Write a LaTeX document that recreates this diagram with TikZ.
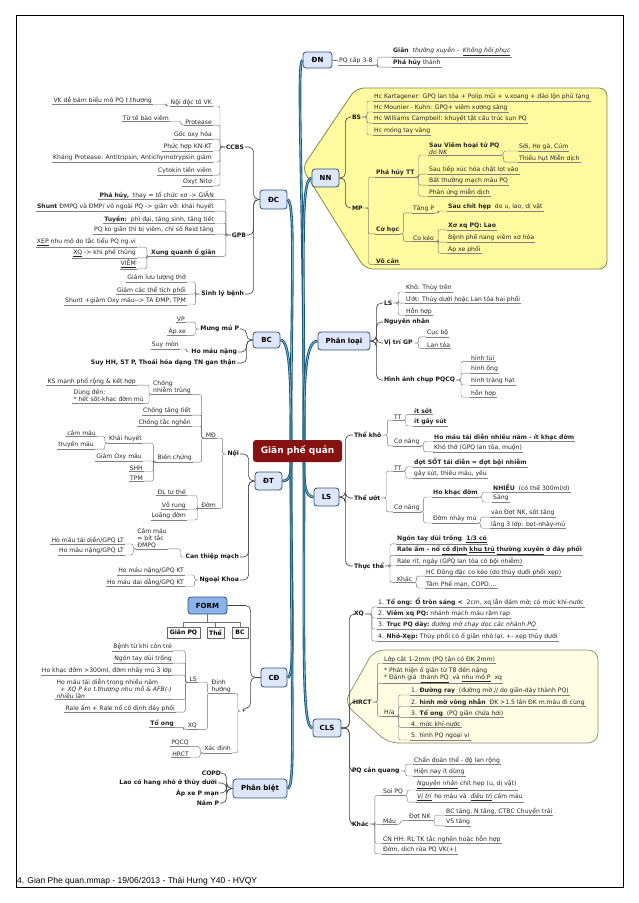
\documentclass[tikz,border=0pt]{standalone}
\usepackage{fontspec}
\setmainfont{DejaVu Sans}
\newfontfamily\arialf{Liberation Sans}
\definecolor{mainc}{RGB}{24,84,118}
\definecolor{mainl}{RGB}{120,180,215}
\definecolor{boxf}{RGB}{222,230,250}
\definecolor{boxb}{RGB}{45,85,115}
\definecolor{cenf}{RGB}{135,18,18}
\definecolor{yelf}{RGB}{255,250,160}
\definecolor{yelb}{RGB}{125,140,70}
\definecolor{crmf}{RGB}{255,252,228}
\definecolor{crmb}{RGB}{140,140,105}
\definecolor{formf}{RGB}{140,178,235}
\newcommand\fs{\fontsize{6.1}{7}\selectfont}
\newcommand\fb{\fontsize{7}{8}\selectfont\bfseries}
\newcommand\rb[5][cl]{\foreach \ch in {#5}{\draw[#1] (#2) -- ++(#3,0) |- (\ch.#4);}}
\newcommand\lb[5][cl]{\foreach \ch in {#5}{\draw[#1] (#2) -- ++(-#3,0) |- (\ch.#4);}}
\begin{document}
\begin{tikzpicture}[x=1pt,y=-1pt,
  ul/.style={draw=black!50, line width=0.4pt},
  t/.style={inner xsep=1pt, inner ysep=0.7pt, font=\fs, text=black!85, align=left,
     append after command={(\tikzlastnode.south west) edge[ul] (\tikzlastnode.south east)}},
  tr/.style={t, anchor=west},
  tl/.style={t, anchor=east},
  nb/.style={inner sep=0.8pt, font=\fs\bfseries, text=black!90},
  nbr/.style={nb, anchor=west},
  nbl/.style={nb, anchor=east},
  cl/.style={draw=black!55, line width=0.4pt, rounded corners=2pt},
  c1/.style={draw=black!75, line width=0.6pt, rounded corners=5pt},
  box/.style={draw=boxb, fill=boxf, line width=0.8pt, rounded corners=3pt, font=\fb, inner sep=0pt},
  sb/.style={draw=black!60, fill=white, font=\fs\bfseries, minimum height=11pt, inner sep=1pt},
  main/.style={draw=mainc, line width=0.9pt, double=mainl, double distance=0.8pt}]
\useasboundingbox (0,0) rectangle (638,903);
\fill[white] (0,0) rectangle (638,903);
\draw[line width=0.9pt] (16,15) rectangle (623,887);
% regions
\draw[fill=yelf, draw=yelb, line width=0.8pt, rounded corners=8pt] (356,88) -- (607,88) -- (607,269) -- (365,269) -- (302,168) -- cycle;
\draw[fill=crmf, draw=crmb, line width=0.7pt, rounded corners=10pt] (374,650) -- (598,650) -- (598,743) -- (388,743) -- (344,703) -- cycle;
% central + main boxes
\node[fill=cenf, rounded corners=3pt, text=white, font=\fontsize{9}{10}\selectfont\bfseries, minimum width=89pt, minimum height=22pt, inner sep=0pt] (CN) at (297.5,451) {Giãn phế quản};
\node[box, minimum width=29pt, minimum height=16pt] (DN) at (317.5,60) {ĐN};
\node[box, minimum width=27pt, minimum height=18pt] (NN) at (325.5,178) {NN};
\node[box, minimum width=52pt, minimum height=18pt] (PL) at (344,341) {Phân loại};
\node[box, minimum width=25pt, minimum height=18pt] (LSb) at (326.5,497) {LS};
\node[box, minimum width=28pt, minimum height=18pt] (CLSb) at (327,728) {CLS};
\node[box, minimum width=27pt, minimum height=19pt] (DC) at (273.5,199.5) {ĐC};
\node[box, minimum width=27pt, minimum height=16pt] (BCb) at (266.5,340) {BC};
\node[box, minimum width=27pt, minimum height=18pt] (DT) at (268.5,481) {ĐT};
\node[box, minimum width=26pt, minimum height=19pt] (CD) at (274,677.5) {CĐ};
\node[box, minimum width=54pt, minimum height=19pt] (PB) at (260,788.5) {Phân biệt};
\coordinate (cUR) at (304,440);
\coordinate (cUL) at (291,440);
\coordinate (cDR) at (304,462);
\coordinate (cDL) at (291,462);
\draw[main] (cUR) .. controls (304,200) and (296,60) .. (DN.west);
\draw[main] (cUR) .. controls (304,260) and (300,178) .. (NN.west);
\draw[main] (cUR) .. controls (304,380) and (305,341) .. (PL.west);
\draw[main] (cDR) .. controls (304,485) and (305,497) .. (LSb.west);
\draw[main] (cDR) .. controls (304,660) and (302,728) .. (CLSb.west);
\draw[main] (cUL) .. controls (291,300) and (296,200) .. (DC.east);
\draw[main] (cUL) .. controls (291,380) and (290,340) .. (BCb.east);
\draw[main] (cDL) .. controls (291,474) and (290,481) .. (DT.east);
\draw[main] (cDL) .. controls (291,610) and (296,678) .. (CD.east);
\draw[main] (cDL) .. controls (291,720) and (296,788) .. (PB.east);
% ===== DN
\node[tr] (dn1) at (338,61) {PQ cấp 3-8};
\node[tr] (dn2) at (392,52) {\textbf{Giãn}\ \ \textit{thường xuyên} - \ \textit{\underline{Không hồi phục}}};
\node[tr] (dn3) at (392,63) {\textbf{Phá hủy} thành};
\draw[c1] (DN.east) -- (dn1.west);
\rb{dn1.south east}{4}{south west}{dn2,dn3}
% ===== NN
\node[nbr] (bs) at (351,117) {BS};
\node[tr] (bs1) at (373,97) {Hc Kartagener: GPQ lan tỏa + Polip mũi + v.xoang + đảo lộn phủ tạng};
\node[tr] (bs2) at (373,108) {Hc Mounier - Kuhn: GPQ+ viêm xương sàng};
\node[tr] (bs3) at (373,119) {Hc Williams Campbell: khuyết tật cấu trúc sụn PQ};
\node[tr] (bs4) at (373,131) {Hc móng tay vàng};
\node[nbr] (mp) at (351,208) {MP};
\node[tr,font=\fs\bfseries] (ph) at (375,173) {Phá hủy TT};
\node[tr] (ph1) at (428,148) {\textbf{Sau Viêm hoại tử PQ}\\\textit{do NK}};
\node[tr] (ph11) at (518,147) {Sởi, Ho gà, Cúm};
\node[tr] (ph12) at (518,158) {Thiếu hụt Miễn dịch};
\node[tr] (ph2) at (428,170) {Sau tiếp xúc hóa chất lọt vào};
\node[tr] (ph3) at (428,181) {Bất thường mạch máu PQ};
\node[tr] (ph4) at (428,192) {Phản ứng miễn dịch};
\node[tr,font=\fs\bfseries] (ch) at (375,230) {Cơ học};
\node[tr] (ch1) at (412,209) {Tăng P};
\node[tr] (ch11) at (447,207) {\textbf{Sau chít hẹp}\ \ do u, lao, dị vật};
\node[tr] (ch2) at (412,238) {Co kéo};
\node[tr] (ch21) at (447,226) {\textbf{Xơ xq PQ: Lao}};
\node[tr] (ch22) at (447,238) {Bệnh phế nang viêm xơ hóa};
\node[tr] (ch23) at (447,249) {Áp xe phổi};
\node[tr,font=\fs\bfseries] (vc) at (375,261) {Vô căn};
\rb[c1]{NN.east}{6}{west}{bs,mp}
\rb{bs.east}{5}{south west}{bs1,bs2,bs3,bs4}
\rb{mp.east}{5}{south west}{ph,ch,vc}
\rb{ph.south east}{3}{south west}{ph1,ph2,ph3,ph4}
\rb{ph1.south east}{3}{south west}{ph11,ph12}
\rb{ch.south east}{3}{south west}{ch1,ch2}
\rb{ch1.south east}{3}{south west}{ch11}
\rb{ch2.south east}{3}{south west}{ch21,ch22,ch23}
% ===== Phan loai
\node[nbr] (pl1) at (383,303) {LS};
\node[tr] (pl11) at (405,288) {Khô: Thùy trên};
\node[tr] (pl12) at (405,299) {Ướt: Thùy dưới hoặc Lan tỏa hai phổi};
\node[tr] (pl13) at (405,311) {Hỗn hợp};
\node[nbr] (pl2) at (383,322) {Nguyên nhân};
\node[nbr] (pl3) at (383,343) {Vị trí GP};
\node[tr] (pl31) at (426,333) {Cục bộ};
\node[tr] (pl32) at (426,345) {Lan tỏa};
\node[nbr] (pl4) at (383,380) {Hình ảnh chụp PQCQ};
\node[tr] (pl41) at (470,358) {hình túi};
\node[tr] (pl42) at (470,369) {hình ống};
\node[tr] (pl43) at (470,381) {hình tràng hạt};
\node[tr] (pl44) at (470,393) {hỗn hợp};
\rb[c1]{PL.east}{6}{west}{pl1,pl2,pl3,pl4}
\rb{pl1.east}{5}{south west}{pl11,pl12,pl13}
\rb{pl3.east}{5}{south west}{pl31,pl32}
\rb{pl4.east}{5}{south west}{pl41,pl42,pl43,pl44}
% ===== LS
\node[nbr] (tk) at (353,435) {Thể khô};
\node[tr] (tk1) at (393,417) {TT};
\node[tr] (tk11) at (413,411) {\textbf{ít sốt}};
\node[tr] (tk12) at (413,422) {\textbf{ít gây sút}};
\node[tr] (tk2) at (393,442) {Cơ năng};
\node[tr] (tk21) at (433,437) {\textbf{Ho máu tái diễn nhiều năm - ít khạc đờm}};
\node[tr] (tk22) at (433,448) {Khó thở (GPQ lan tỏa, muộn)};
\node[nbr] (tu) at (353,498) {Thể ướt};
\node[tr] (tu1) at (393,468) {TT};
\node[tr] (tu11) at (413,462) {\textbf{đợt SỐT tái diễn = đợt bội nhiễm}};
\node[tr] (tu12) at (413,474) {gây sút, thiếu máu, yếu};
\node[tr] (tu2) at (393,508) {Cơ năng};
\node[tr] (tu21) at (432,493) {\textbf{Ho khạc đờm}};
\node[tr] (tu211) at (492,488) {\textbf{NHIỀU}\ \ (có thể 300ml/d)};
\node[tr] (tu212) at (492,498) {Sáng};
\node[tr] (tu22) at (432,519) {Đờm nhày mủ};
\node[tr] (tu221) at (490,513) {vào Đợt NK, sốt tăng};
\node[tr] (tu222) at (490,524) {lắng 3 lớp: bọt-nhày-mủ};
\node[nbr] (tt) at (353,566) {Thực thể};
\node[tr] (tt1) at (396,539) {\textbf{Ngón tay dùi trống\ \ \underline{1/3 có}}};
\node[tr] (tt2) at (396,550) {\textbf{Rale ẩm - nổ \underline{cố định} \underline{khu trú} \underline{thường xuyên} ở đáy phổi}};
\node[tr] (tt3) at (396,561) {Rale rít, ngáy (GPQ lan tỏa có bội nhiễm)};
\node[tr] (tt4) at (396,579) {Khác};
\node[tr] (tt41) at (425,572) {HC Đông đặc co kéo (do thùy dưới phổi xẹp)};
\node[tr] (tt42) at (425,584) {Tâm Phế mạn, COPD,...};
\rb[c1]{LSb.east}{6}{west}{tk,tu,tt}
\rb{tk.east}{5}{south west}{tk1,tk2}
\rb{tk1.south east}{3}{south west}{tk11,tk12}
\rb{tk2.south east}{3}{south west}{tk21,tk22}
\rb{tu.east}{5}{south west}{tu1,tu2}
\rb{tu1.south east}{3}{south west}{tu11,tu12}
\rb{tu2.south east}{3}{south west}{tu21,tu22}
\rb{tu21.south east}{3}{south west}{tu211,tu212}
\rb{tu22.south east}{3}{south west}{tu221,tu222}
\rb{tt.east}{5}{south west}{tt1,tt2,tt3,tt4}
\rb{tt4.south east}{3}{south west}{tt41,tt42}
% ===== CLS
\node[nbr] (xq) at (353,614) {XQ};
\node[tr] (xq1) at (377,602) {1. \textbf{Tổ ong: Ổ tròn sáng <}\ \ 2cm, xq lẫn đám mờ; có mức khí-nước};
\node[tr] (xq2) at (377,614) {2. \textbf{Viêm xq PQ:}\ nhánh mạch máu rậm rạp};
\node[tr] (xq3) at (377,625) {3. \textbf{Trục PQ dày:}\ \textit{đường mờ chạy dọc các nhánh PQ}};
\node[tr] (xq4) at (377,637) {4. \textbf{Nhỏ-Xẹp:}\ Thùy phổi có ổ giãn nhỏ lại, +- xẹp thùy dưới};
\node[nbr] (hr) at (352,702) {HRCT};
\node[tr] (hr1) at (383,659) {Lớp cắt 1-2mm (PQ tận có ĐK 2mm)};
\node[tr] (hr2) at (383,675) {* Phát hiện ổ giãn từ T8 đến nặng\\* Đánh giá \ \underline{thành PQ} \ và \underline{nhu mô P} \ xq};
\node[tr] (hr3) at (383,713) {H/a};
\node[tr] (ha1) at (410,691) {1. \textbf{Đường ray}\ \ (đường mờ // do giãn-dày thành PQ)};
\node[tr] (ha2) at (410,702) {2. \textbf{hình mờ vòng nhẫn}\ \ ĐK >1.5 lần ĐK m.máu đi cùng};
\node[tr] (ha3) at (410,713) {3. \textbf{Tổ ong}\ \ (PQ giãn chứa hơi)};
\node[tr] (ha4) at (410,724) {4. mức khí-nước};
\node[tr] (ha5) at (410,736) {5. hình PQ ngoại vi};
\node[nbr] (pq) at (351,771) {PQ cản quang};
\node[tr] (pq1) at (413,760) {Chẩn đoán thể - độ lan rộng};
\node[tr] (pq2) at (413,772) {Hiện nay ít dùng};
\node[nbr] (kh) at (351,824) {Khác};
\node[tr] (kh1) at (382,792) {Soi PQ};
\node[tr] (kh11) at (416,785) {\underline{\textit{Nguyên nhân}}\ chít hẹp (u, dị vật)};
\node[tr] (kh12) at (416,797) {\underline{\textit{Vị trí}}\ ho máu và \ \underline{\textit{điều trị}}\ cầm máu};
\node[tr] (kh2) at (382,821) {Máu};
\node[tr] (kh21) at (408,817) {Đợt NK};
\node[tr] (kh211) at (445,811) {BC tăng, N tăng, CTBC Chuyển trái};
\node[tr] (kh212) at (445,822) {VS tăng};
\node[tr] (kh3) at (382,839) {CN HH: RL TK tắc nghẽn hoặc hỗn hợp};
\node[tr] (kh4) at (382,850) {Đờm, dịch rửa PQ VK(+)};
\rb[c1]{CLSb.east}{8}{west}{xq,hr,pq,kh}
\rb{xq.east}{7}{south west}{xq1,xq2,xq3,xq4}
\rb{hr.east}{5}{south west}{hr1,hr2,hr3}
\rb{hr3.south east}{3}{south west}{ha1,ha2,ha3,ha4,ha5}
\rb{pq.east}{5}{south west}{pq1,pq2}
\rb{kh.east}{5}{south west}{kh1,kh2,kh3,kh4}
\rb{kh1.south east}{3}{south west}{kh11,kh12}
\rb{kh2.south east}{3}{south west}{kh21}
\rb{kh21.south east}{3}{south west}{kh211,kh212}
% ===== DC
\node[nbl] (cc) at (245,147) {CCBS};
\node[tl] (cc1) at (213,102) {Nội độc tố VK};
\node[tl] (cc11) at (153,100) {VK dễ bám biểu mô PQ t.thương};
\node[tl] (cc2) at (213,122) {Protease};
\node[tl] (cc21) at (170,118) {Từ tế bào viêm};
\node[tl] (cc3) at (213,135) {Gốc oxy hóa};
\node[tl] (cc4) at (213,147) {Phức hợp KN-KT};
\node[tl] (cc5) at (213,158) {Kháng Protease: Antitripsin, Antichymotrypsin giảm};
\node[tl] (cc6) at (213,171) {Cytokin tiền viêm};
\node[tl] (cc7) at (213,182) {Oxyt Nitơ};
\node[nbl] (gpb) at (247,235) {GPB};
\node[tl] (g1) at (215,195) {\textbf{Phá hủy,}\ \ thay = tổ chức xơ -> GIÃN};
\node[tl] (g2) at (215,207) {\textbf{Shunt} ĐMPQ và ĐMP/ vỏ ngoài PQ -> giãn vỡ: khái huyết};
\node[tl] (g3) at (215,219) {\textbf{Tuyến:}\ \ phì đại, tăng sinh, tăng tiết};
\node[tl] (g4) at (215,230) {PQ ko giãn thì bị viêm, chỉ số Reid tăng};
\node[tl] (g5) at (217,252) {\textbf{Xung quanh ổ giãn}};
\node[tl] (g51) at (137,242) {\underline{XẸP} nhu mô do tắc tiểu PQ ng.vi};
\node[tl] (g52) at (137,253) {\underline{XQ} -> khí phế thũng};
\node[tl] (g53) at (137,264) {\underline{VIÊM}};
\node[nbl] (slb) at (245,294) {Sinh lý bệnh};
\node[tl] (s1) at (187,278) {Giảm lưu lượng thở};
\node[tl] (s2) at (187,290) {Giảm các thể tích phổi};
\node[tl] (s3) at (187,301) {Shunt +giảm Oxy máu-{}-> TA ĐMP, TPM};
\lb[c1]{DC.west}{6}{east}{cc,gpb,slb}
\lb{cc.west}{5}{south east}{cc1,cc2,cc3,cc4,cc5,cc6,cc7}
\lb{cc1.south west}{3}{south east}{cc11}
\lb{cc2.south west}{3}{south east}{cc21}
\lb{gpb.west}{5}{south east}{g1,g2,g3,g4,g5}
\lb{g5.south west}{3}{south east}{g51,g52,g53}
\lb{slb.west}{5}{south east}{s1,s2,s3}
% ===== BC
\node[nbl] (mm) at (240,329) {Mưng mủ P};
\node[tl] (mm1) at (186,319) {VP};
\node[tl] (mm2) at (187,331) {Áp xe};
\node[nbl] (hm) at (238,352) {Ho máu nặng};
\node[tl] (hm1) at (180,345) {Suy mòn};
\node[nbl] (sh) at (237,363) {Suy HH, ST P, Thoái hóa dạng TN gan thận};
\lb[c1]{BCb.west}{6}{east}{mm,hm,sh}
\lb{mm.west}{4}{south east}{mm1,mm2}
\lb{hm.west}{4}{south east}{hm1}
% ===== DT
\node[nbl] (noi) at (240,454) {Nội};
\node[tl] (md) at (217,435) {MĐ};
\node[tl] (cn) at (192,387) {Chống\\nhiễm trùng};
\node[tl] (cn1) at (137,381) {KS mạnh phổ rộng \& kết hợp};
\node[tl] (cn2) at (145,396) {Dùng đến:\\ * hết sốt-khạc đờm mủ};
\node[tl] (md2) at (192,411) {Chống tăng tiết};
\node[tl] (md3) at (192,422) {Chống tắc nghẽn};
\node[tl] (bc) at (193,458) {Biến chứng};
\node[tl] (bc1) at (143,439) {Khái huyết};
\node[tl] (bc11) at (97,433) {cầm máu};
\node[tl] (bc12) at (95,445) {truyền máu};
\node[tl] (bc2) at (143,457) {Giảm Oxy máu};
\node[tl] (bc3) at (144,468) {SHH};
\node[tl] (bc4) at (144,478) {TPM};
\node[tl] (dom) at (217,505) {Đờm};
\node[tl] (dom1) at (187,492) {ĐL tư thế};
\node[tl] (dom2) at (187,505) {Vỗ rung};
\node[tl] (dom3) at (187,516) {Loãng đờm};
\node[nbl] (ctm) at (240,557) {Can thiệp mạch};
\node[tl] (ctm1) at (168,538) {Cầm máu\\= bít tắc\\ĐMPQ};
\node[tl] (ctm11) at (125,540) {Ho máu tái diễn/GPQ LT};
\node[tl] (ctm12) at (125,551) {Ho máu nặng/GPQ LT};
\node[nbl] (nk) at (240,580) {Ngoại Khoa};
\node[tl] (nk1) at (185,571) {Ho máu nặng/GPQ KT};
\node[tl] (nk2) at (185,582) {Ho máu dai dẳng/GPQ KT};
\lb[c1]{DT.west}{6}{east}{noi,ctm,nk}
\lb{noi.west}{4}{south east}{md,dom}
\lb{md.south west}{3}{south east}{cn,md2,md3,bc}
\lb{cn.south west}{3}{south east}{cn1,cn2}
\lb{bc.south west}{3}{south east}{bc1,bc2,bc3,bc4}
\lb{bc1.south west}{3}{south east}{bc11,bc12}
\lb{dom.south west}{3}{south east}{dom1,dom2,dom3}
\lb{ctm.west}{4}{south east}{ctm1}
\lb{ctm1.south west}{3}{south east}{ctm11,ctm12}
\lb{nk.west}{4}{south east}{nk1,nk2}
% ===== CD
\node[box, fill=formf, minimum width=39pt, minimum height=17pt] (FORM) at (207.5,605.5) {FORM};
\node[sb, minimum width=33pt] (f1) at (183.5,632.5) {Giãn PQ};
\node[sb, minimum width=17pt] (f2) at (215.5,632.5) {Thể};
\node[sb, minimum width=16pt] (f3) at (240,632.5) {BC};
\foreach \ch in {f1,f2,f3}{\draw[draw=black!55, line width=0.4pt] (FORM.south) -- ++(0,8) -| (\ch.north);}
\draw[c1] (CD.west) -- ++(-10,0) |- (FORM.east);
\node[inner sep=0.5pt, font=\fs] (plus) at (244,711) {+};
\draw[c1] (CD.west) -- ++(-10,0) |- (plus.north east);
\node[tl] (dh) at (232,686) {Định\\hướng};
\node[tl] (dls) at (198,679) {LS};
\node[tl] (d1) at (173,647) {Bệnh từ khi còn trẻ};
\node[tl] (d2) at (173,659) {Ngón tay dùi trống};
\node[tl] (d3) at (173,671) {Ho khạc đờm >300ml, đờm nhầy mủ 3 lớp};
\node[tl] (d4) at (173,689) {Ho máu tái diễn trong nhiều năm\\\ \ \textit{+ XQ P ko t.thương nhu mô \& AFB(-)}\\\textit{nhiều lần}};
\node[tl] (d5) at (176,708) {Rale ẩm + Rale nổ cố định đáy phổi};
\node[tl] (dxq) at (198,726) {XQ};
\node[tl] (dxq1) at (175,723) {\textbf{Tổ ong}};
\node[tl] (xd) at (232,749) {Xác định};
\node[tl] (xd1) at (190,743) {PQCQ};
\node[tl] (xd2) at (190,754) {HRCT};
\lb{plus.west}{3}{south east}{dh,xd}
\lb{dh.south west}{3}{south east}{dls,dxq}
\lb{dls.south west}{3}{south east}{d1,d2,d3,d4,d5}
\lb{dxq.south west}{3}{south east}{dxq1}
\lb{xd.south west}{3}{south east}{xd1,xd2}
% ===== Phan biet
\node[nbl] (pb1) at (222,773) {COPD};
\node[nbl] (pb2) at (218,783) {Lao có hang nhỏ ở thùy dưới};
\node[nbl] (pb3) at (220,793) {Áp xe P mạn};
\node[nbl] (pb4) at (220,803) {Nấm P};
\lb[c1]{PB.west}{6}{east}{pb1,pb2,pb3,pb4}
% footer
\node[anchor=west, inner sep=0pt, font=\arialf\fontsize{8.5}{10}\selectfont] (ft) at (17,881) {4. Gian Phe quan.mmap - 19/06/2013 - Thái Hưng Y40 - HVQY};
\end{tikzpicture}
\end{document}
